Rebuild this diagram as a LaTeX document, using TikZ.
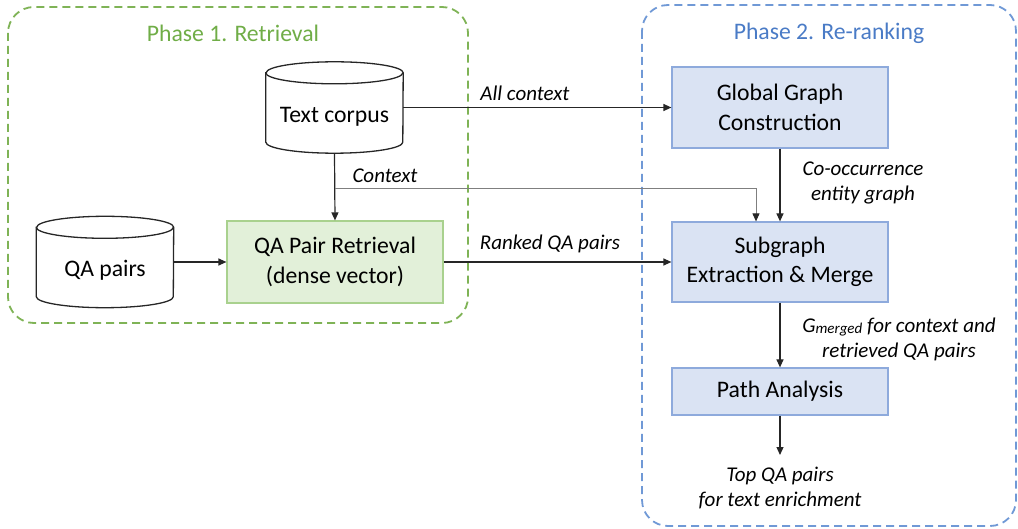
\documentclass[tikz,border=0pt]{standalone}
\usepackage{fontspec}
\setmainfont{Carlito}
\usetikzlibrary{arrows.meta}
\definecolor{ptitlegreen}{HTML}{70AD47}
\definecolor{pdashgreen}{HTML}{7FB356}
\definecolor{gfill}{HTML}{E2F0D9}
\definecolor{gborder}{HTML}{A9D18E}
\definecolor{ptitleblue}{HTML}{4A7BC6}
\definecolor{pdashblue}{HTML}{7099D6}
\definecolor{bfill}{HTML}{DAE3F3}
\definecolor{bborder}{HTML}{8EAADC}
\definecolor{linkgray}{HTML}{7F7F7F}

% outline of a database cylinder around a named rectangular node
\newcommand\drawdbcyl[1]{%
  \draw[cylline] ([yshift=-11pt]#1.north west) -- ([yshift=11pt]#1.south west)
    arc[start angle=180,end angle=360,x radius=68.5pt,y radius=11pt]
    -- ([yshift=-11pt]#1.north east)
    arc[start angle=0,end angle=180,x radius=68.5pt,y radius=11pt] -- cycle;
  \draw[cylline] ([yshift=-11pt]#1.north west)
    arc[start angle=180,end angle=360,x radius=68.5pt,y radius=11pt];}
% text set below the middle of a cylinder, clear of its top ellipse
\newcommand\dbtext[2]{\raisebox{-#1}[0pt][0pt]{#2}}

\begin{document}
\begin{tikzpicture}[x=1pt,y=1pt,
  mainfont/.style={font=\fontsize{23.7}{29.5}\selectfont},
  phasebox/.style={dash pattern=on 8pt off 5pt, line width=1.8pt, rounded corners=26pt},
  phasetitle/.style={mainfont, inner sep=0},
  procbox/.style={mainfont, line width=1.2pt, minimum width=216pt, align=center, inner sep=0},
  greenbox/.style={procbox, draw=gborder, fill=gfill},
  bluebox/.style={procbox, draw=bborder, fill=bfill},
  dbnode/.style={mainfont, minimum width=137pt, minimum height=91pt, inner sep=0},
  cylline/.style={line width=1.3pt, draw=black!85},
  lbl/.style={font=\fontsize{21}{25}\selectfont\itshape, align=center, inner sep=0},
  arr/.style={-{Triangle[length=8pt,width=7pt]}, line width=1.2pt, draw=black!85},
  thinarr/.style={-{Triangle[length=8pt,width=7pt,color=black!85]}, line width=0.9pt, draw=linkgray}
]
\useasboundingbox (0,0) rectangle (1018,-529);

% phase frames
\draw[phasebox, draw=pdashgreen] (8,-7) rectangle (468,-323);
\draw[phasebox, draw=pdashblue] (642,-5) rectangle (1016,-526);
\node[phasetitle, text=ptitlegreen] (t1) at (233,-33) {Phase 1. Retrieval};
\node[phasetitle, text=ptitleblue] (t2) at (829,-33) {Phase 2. Re-ranking};

% data stores
\node[dbnode] (corpus) at (334.5,-107.5) {\dbtext{15.5pt}{Text corpus}};
\drawdbcyl{corpus}
\node[dbnode] (qa) at (105,-262) {\dbtext{15pt}{QA pairs}};
\drawdbcyl{qa}

% processing steps
\node[greenbox, minimum height=82pt] (retr) at (335,-262) {QA Pair Retrieval\\(dense vector)};
\node[bluebox, minimum height=81pt] (global) at (780,-107.5) {Global Graph\\Construction};
\node[bluebox, minimum height=80pt] (sub) at (780,-262) {Subgraph\\Extraction \& Merge};
\node[bluebox, minimum height=47pt] (path) at (780,-391.5) {Path Analysis};

% output
\node[lbl] (out) at (780,-488) {Top QA pairs\\for text enrichment};
\coordinate (outend) at (780,-455);
\coordinate (ctxsplit) at (334.5,-188);

% connectors
\draw[arr] (corpus.east) -- (global.west);
\draw[arr] (corpus.south) -- (retr.north);
\draw[thinarr] (ctxsplit) -| ([xshift=-24pt]sub.north);
\draw[arr] (qa.east) -- (retr.west);
\draw[arr] (retr.east) -- (sub.west);
\draw[arr] (global.south) -- (sub.north);
\draw[arr] (sub.south) -- (path.north);
\draw[arr] (path.south) -- (outend);

% connector labels
\node[lbl] (lall) at (525,-93) {All context};
\node[lbl] (lctx) at (385,-176) {Context};
\node[lbl] (lrank) at (550,-244) {Ranked QA pairs};
\node[lbl] (lcooc) at (863,-183) {Co-occurrence\\entity graph};
\node[lbl] (lmerge) at (899,-339) {G{\fontsize{15}{15}\selectfont\raisebox{-1.5pt}{merged}} for context and\\retrieved QA pairs};
\end{tikzpicture}
\end{document}
